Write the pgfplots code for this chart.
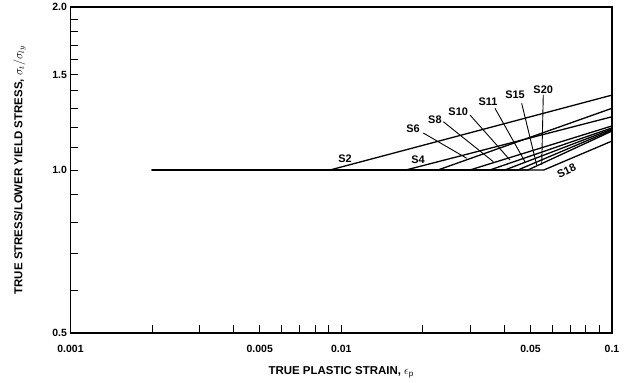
\documentclass[border=0pt]{standalone}
\usepackage{pgfplots}
\pgfplotsset{compat=1.18}
\usepackage{fontspec}
\setmainfont{Liberation Sans}
\begin{document}
\begin{tikzpicture}
\begin{axis}[
  scale only axis,
  width=541.5bp, height=326bp,
  xmode=log, ymode=log,
  xmin=0.001, xmax=0.1, ymin=0.5, ymax=2.0,
  axis line style={line width=1.8bp},
  tick pos=left,
  tick align=inside,
  major tick length=8bp, minor tick length=8bp,
  every tick/.style={black, line width=0.8bp},
  xtick={0.001,0.005,0.01,0.05,0.1},
  xticklabels={0.001,0.005,0.01,0.05,0.1},
  minor xtick={0.002,0.003,0.004,0.006,0.007,0.008,0.009,0.02,0.03,0.04,0.06,0.07,0.08,0.09},
  ytick={0.5,1.0,1.5,2.0},
  yticklabels={0.5,1.0,1.5,2.0},
  minor ytick={0.6,0.7,0.8,0.9,1.1,1.2,1.3,1.4,1.6,1.7,1.8,1.9},
  ticklabel style={font=\bfseries\fontsize{10.5}{12}\selectfont},
  xticklabel style={yshift=-9bp},
  xlabel={TRUE PLASTIC STRAIN, $\epsilon_\mathrm{p}$},
  ylabel={TRUE STRESS/LOWER YIELD STRESS, $\sigma_t/\sigma_{ly}$},
  label style={font=\bfseries\fontsize{11.5}{13}\selectfont},
  xlabel style={at={(axis description cs:0.5,-0.12)}, anchor=center},
  ylabel style={at={(axis description cs:-0.094,0.5)}, anchor=center},
  clip=false,
]
% S2
\addplot[black, line width=1.3bp] coordinates {(0.002,1.0) (0.00909,1.0) (0.1,1.375)};
% S4
\addplot[black, line width=1.3bp] coordinates {(0.002,1.0) (0.01734,1.0) (0.1,1.254)};
% S6
\addplot[black, line width=1.3bp] coordinates {(0.002,1.0) (0.02276,1.0) (0.1,1.300)};
% S8
\addplot[black, line width=1.3bp] coordinates {(0.002,1.0) (0.02987,1.0) (0.1,1.206)};
% S10
\addplot[black, line width=1.3bp] coordinates {(0.002,1.0) (0.03540,1.0) (0.1,1.196)};
% S11
\addplot[black, line width=1.3bp] coordinates {(0.002,1.0) (0.04022,1.0) (0.1,1.190)};
% S15
\addplot[black, line width=1.3bp] coordinates {(0.002,1.0) (0.04493,1.0) (0.1,1.185)};
% S20
\addplot[black, line width=1.3bp] coordinates {(0.002,1.0) (0.04891,1.0) (0.1,1.180)};
% S18
\addplot[black, line width=1.3bp] coordinates {(0.002,1.0) (0.05600,1.0) (0.1,1.131)};

\begin{scope}[every node/.style={font=\bfseries\fontsize{11}{12}\selectfont, inner sep=0pt}]
\node at (rel axis cs:0.507,0.536) {S2};
\node at (rel axis cs:0.642,0.531) {S4};
\node at (rel axis cs:0.6325,0.628) {S6};
\node at (rel axis cs:0.673,0.653) {S8};
\node at (rel axis cs:0.716,0.679) {S10};
\node at (rel axis cs:0.771,0.710) {S11};
\node at (rel axis cs:0.821,0.730) {S15};
\node at (rel axis cs:0.873,0.745) {S20};
\node[rotate=25] at (rel axis cs:0.916,0.497) {S18};
\end{scope}
\begin{scope}[line width=0.9bp]
\draw (rel axis cs:0.6515,0.6135) -- (rel axis cs:0.7317,0.5359);
\draw (rel axis cs:0.6885,0.6482) -- (rel axis cs:0.7808,0.5255);
\draw (rel axis cs:0.7378,0.6687) -- (rel axis cs:0.8116,0.5307);
\draw (rel axis cs:0.7839,0.6893) -- (rel axis cs:0.8393,0.5255);
\draw (rel axis cs:0.8332,0.7046) -- (rel axis cs:0.8609,0.5153);
\draw (rel axis cs:0.8731,0.7301) -- (rel axis cs:0.8702,0.5153);
\end{scope}
\end{axis}
\pgfresetboundingbox
\path (current axis.south west) ++(-70.5bp,-50bp) rectangle ++(631bp,383bp);
\end{tikzpicture}
\end{document}
